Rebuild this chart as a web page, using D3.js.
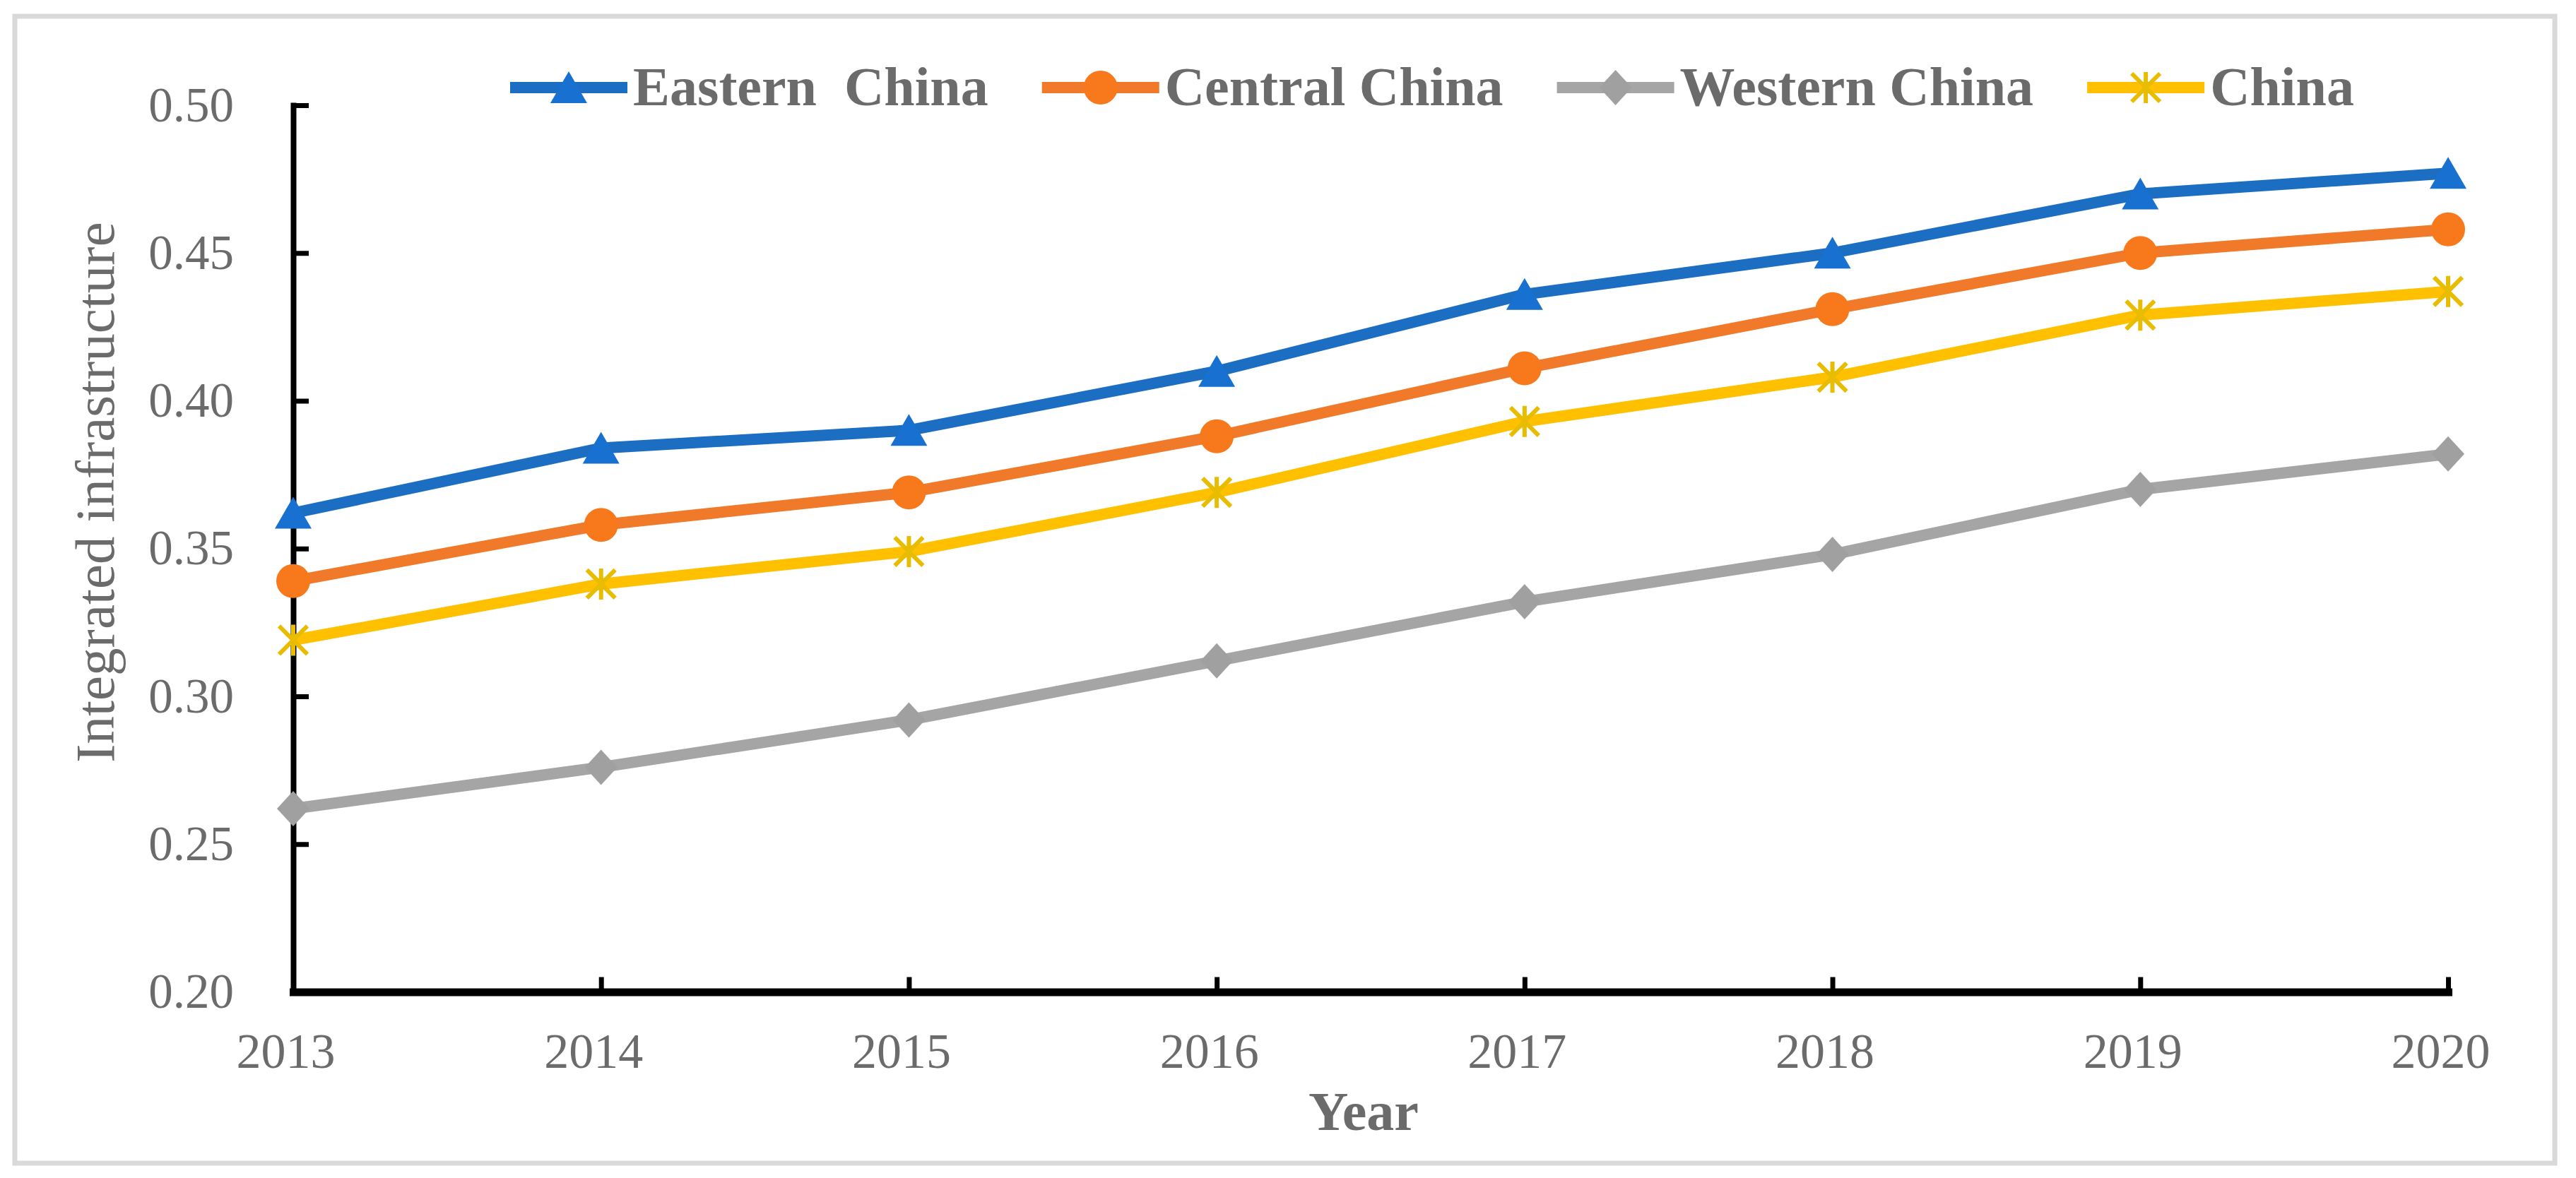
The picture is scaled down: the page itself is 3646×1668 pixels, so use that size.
<!DOCTYPE html>
<html>
<head>
<meta charset="utf-8">
<script src="https://cdn.jsdelivr.net/npm/d3@7"></script>
<style>
  html, body { margin: 0; padding: 0; background: #fff; }
  svg { display: block; }
  text { font-family: "Times New Roman", "Liberation Serif", serif; }
</style>
</head>
<body>
<svg id="chart" width="3646" height="1668"></svg>
<script>
// ---- data ----
const years = [2013, 2014, 2015, 2016, 2017, 2018, 2019, 2020];
const eastern = [0.362, 0.384, 0.390, 0.410, 0.436, 0.450, 0.470, 0.477];
const central = [0.339, 0.358, 0.369, 0.388, 0.411, 0.431, 0.450, 0.458];
const western = [0.262, 0.276, 0.292, 0.312, 0.332, 0.348, 0.370, 0.382];
const china   = [0.319, 0.338, 0.349, 0.369, 0.393, 0.408, 0.429, 0.437];
const seriesNames = ["Eastern  China", "Central China", "Western China", "China"];
const yTicks = [0.20, 0.25, 0.30, 0.35, 0.40, 0.45, 0.50];
const xTitle = "Year";
const yTitle = "Integrated infrastructure";

// ---- styles ----
const colors = ["#1c6ec2", "#f07a2a", "#a5a5a5", "#ffc000"];
const markerColors = ["#1870d0", "#f7791c", "#a0a0a0", "#e8bc00"];
const markerTypes = ["triangle", "circle", "diamond", "star"];
const textColor = "#6b6b6b";

const svg = d3.select("#chart");

// outer frame
svg.append("rect")
  .attr("x", 21).attr("y", 23).attr("width", 3595).attr("height", 1624)
  .attr("fill", "#fff").attr("stroke", "#d9d9d9").attr("stroke-width", 7);

const x = d3.scalePoint().domain(years).range([415, 3465]);
const y = d3.scaleLinear().domain([0.20, 0.50]).range([1404.5, 149]);

// y axis
const yAxis = d3.axisLeft(y).tickValues(yTicks).tickFormat(d3.format(".2f"))
  .tickSize(-22).tickSizeOuter(0).tickPadding(84);
const gy = svg.append("g").attr("transform", "translate(415,0)").call(yAxis);
gy.select(".domain").attr("stroke", "#000").attr("stroke-width", 8).attr("stroke-linecap", "square");
gy.selectAll(".tick line").attr("stroke", "#000").attr("stroke-width", 7)
  .attr("x1", 0);
gy.selectAll(".tick").filter(d => d === 0.20).select("line").remove();
gy.selectAll(".tick text").attr("fill", textColor).attr("font-size", 69)
  .attr("font-family", "'Times New Roman', 'Liberation Serif', serif");

// x axis
const xAxis = d3.axisBottom(x).tickSize(-21).tickSizeOuter(0).tickPadding(58);
const gx = svg.append("g").attr("transform", "translate(0,1404.5)").call(xAxis);
gx.select(".domain").attr("stroke", "#000").attr("stroke-width", 11).attr("stroke-linecap", "square");
gx.selectAll(".tick line").attr("stroke", "#000").attr("stroke-width", 7);
gx.selectAll(".tick").filter(d => d === years[0]).select("line").remove();
gx.selectAll(".tick text").attr("fill", textColor).attr("font-size", 70).attr("dx", -11)
  .attr("font-family", "'Times New Roman', 'Liberation Serif', serif");

// axis titles
svg.append("text").attr("x", 1930).attr("y", 1600).attr("text-anchor", "middle")
  .attr("font-size", 78).attr("font-weight", "bold").attr("fill", textColor).text(xTitle);
svg.append("text").attr("transform", "translate(161,697) rotate(-90)").attr("text-anchor", "middle")
  .attr("font-size", 79).attr("fill", textColor).text(yTitle);

// marker drawing
function drawMarker(g, type, cx, cy, color) {
  if (type === "triangle") {
    g.append("path").attr("d", `M${cx},${cy - 23}L${cx + 26},${cy + 22}L${cx - 26},${cy + 22}Z`)
      .attr("fill", color);
  } else if (type === "circle") {
    g.append("circle").attr("cx", cx).attr("cy", cy).attr("r", 24).attr("fill", color);
  } else if (type === "diamond") {
    g.append("path").attr("d", `M${cx},${cy - 25}L${cx + 23},${cy}L${cx},${cy + 25}L${cx - 23},${cy}Z`)
      .attr("fill", color);
  } else if (type === "star") {
    const s = 20;
    g.append("path")
      .attr("d", `M${cx - s},${cy - s}L${cx + s},${cy + s}M${cx - s},${cy + s}L${cx + s},${cy - s}M${cx},${cy - s - 2}L${cx},${cy + s + 2}`)
      .attr("stroke", color).attr("stroke-width", 6).attr("fill", "none");
  }
}

// series
const allSeries = [eastern, central, western, china];
const line = d3.line().x((d, i) => x(years[i])).y(d => y(d));
allSeries.forEach((vals, si) => {
  const g = svg.append("g");
  g.append("path").datum(vals).attr("d", line).attr("fill", "none")
    .attr("stroke", colors[si]).attr("stroke-width", 16).attr("stroke-linejoin", "round");
  vals.forEach((v, i) => drawMarker(g, markerTypes[si], x(years[i]), y(v), markerColors[si]));
});

// legend
let lx = 722;
const ly = 124;
seriesNames.forEach((name, si) => {
  const g = svg.append("g");
  g.append("line").attr("x1", lx).attr("x2", lx + 166).attr("y1", ly).attr("y2", ly)
    .attr("stroke", colors[si]).attr("stroke-width", 16);
  drawMarker(g, markerTypes[si], lx + 83, ly, markerColors[si]);
  const t = g.append("text").attr("x", lx + 174).attr("y", ly + 25)
    .attr("font-size", 78).attr("font-weight", "bold").attr("fill", textColor)
    .style("white-space", "pre").text(name);
  const w = t.node().getComputedTextLength();
  lx = lx + 174 + w + 76;
});
</script>
</body>
</html>
